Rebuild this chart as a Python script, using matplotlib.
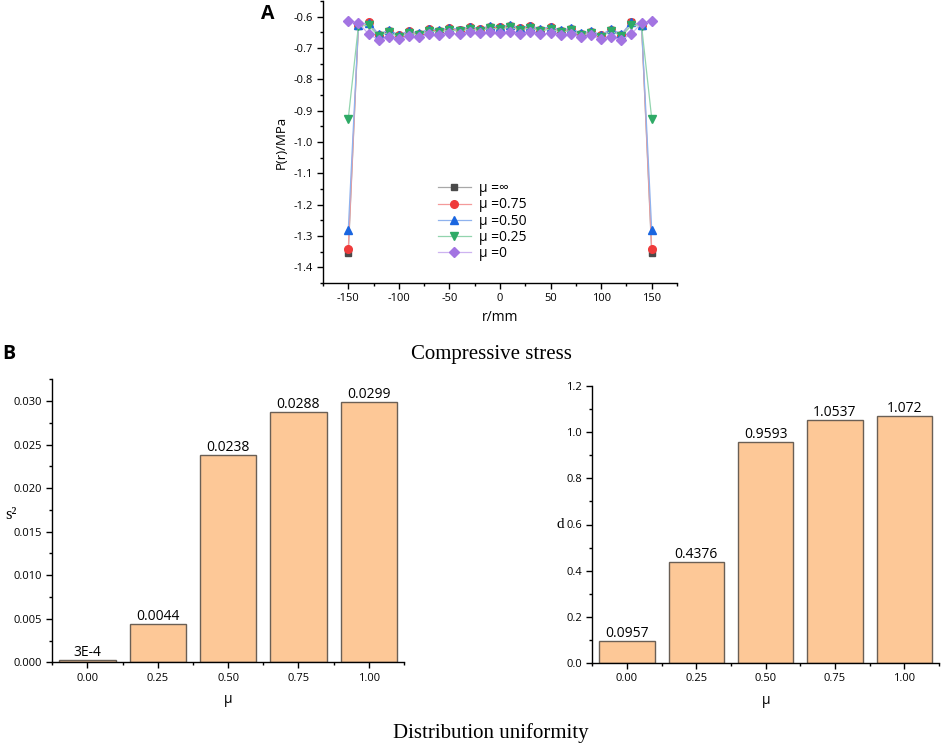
import matplotlib
matplotlib.use("Agg")
import matplotlib.pyplot as plt
from matplotlib.ticker import MultipleLocator

plt.rcParams['font.family'] = ['Open Sans', 'DejaVu Sans']

# ---- Panel A data ----
r_mm = [-150, -140, -130, -120, -110, -100, -90, -80, -70, -60, -50, -40, -30, -20, -10,
        0, 10, 20, 30, 40, 50, 60, 70, 80, 90, 100, 110, 120, 130, 140, 150]
p_inf = [-1.355, -0.629, -0.619, -0.659, -0.646, -0.661, -0.648, -0.656, -0.641, -0.646,
         -0.638, -0.644, -0.635, -0.641, -0.633, -0.635, -0.630, -0.638, -0.632, -0.642,
         -0.635, -0.646, -0.640, -0.656, -0.649, -0.661, -0.642, -0.659, -0.618, -0.629, -1.355]
p_075 = [-1.342, -0.628, -0.617, -0.658, -0.645, -0.660, -0.647, -0.655, -0.640, -0.645,
         -0.637, -0.643, -0.634, -0.640, -0.632, -0.634, -0.629, -0.637, -0.631, -0.641,
         -0.634, -0.645, -0.639, -0.655, -0.648, -0.660, -0.641, -0.658, -0.616, -0.628, -1.342]
p_050 = [-1.280, -0.627, -0.619, -0.656, -0.643, -0.658, -0.645, -0.653, -0.638, -0.643,
         -0.635, -0.641, -0.632, -0.638, -0.630, -0.632, -0.627, -0.635, -0.629, -0.639,
         -0.632, -0.643, -0.637, -0.653, -0.646, -0.658, -0.639, -0.656, -0.618, -0.627, -1.280]
p_025 = [-0.925, -0.630, -0.628, -0.662, -0.650, -0.664, -0.652, -0.659, -0.645, -0.650,
         -0.642, -0.647, -0.639, -0.645, -0.637, -0.639, -0.634, -0.642, -0.636, -0.646,
         -0.639, -0.650, -0.644, -0.659, -0.652, -0.664, -0.646, -0.662, -0.628, -0.630, -0.925]
p_0 = [-0.613, -0.620, -0.655, -0.674, -0.664, -0.671, -0.661, -0.664, -0.655, -0.657,
       -0.652, -0.655, -0.650, -0.652, -0.650, -0.652, -0.648, -0.655, -0.650, -0.655,
       -0.652, -0.657, -0.655, -0.666, -0.660, -0.671, -0.664, -0.674, -0.655, -0.620, -0.613]

series_labels = ['μ =∞', 'μ =0.75', 'μ =0.50', 'μ =0.25', 'μ =0']

# ---- Panel B data ----
mu = [0.00, 0.25, 0.50, 0.75, 1.00]
mu_ticklabels = ['0.00', '0.25', '0.50', '0.75', '1.00']
s2 = [0.0003, 0.0044, 0.0238, 0.0288, 0.0299]
s2_labels = ['3E-4', '0.0044', '0.0238', '0.0288', '0.0299']
d_vals = [0.0957, 0.4376, 0.9593, 1.0537, 1.072]
d_labels = ['0.0957', '0.4376', '0.9593', '1.0537', '1.072']

W, H = 941, 745
fig = plt.figure(figsize=(W / 100, H / 100), dpi=100)

def ax_rect(l, t, r, b):
    return [l / W, 1 - b / H, (r - l) / W, (b - t) / H]

TICK_FS = 8
def style_ax(ax):
    for s in ('top', 'right'):
        ax.spines[s].set_visible(False)
    for s in ('left', 'bottom'):
        ax.spines[s].set_linewidth(1.0)
    ax.tick_params(which='major', direction='out', length=4, width=1, labelsize=TICK_FS)
    ax.tick_params(which='minor', direction='out', length=2.5, width=1)

# ---- Panel A ----
axA = fig.add_axes(ax_rect(323, 1, 677, 283))
styles = [
    (p_inf, 's', '#4a4a4a', '#a8a8a8', 5),
    (p_075, 'o', '#ef3b3b', '#f49a9a', 5.5),
    (p_050, '^', '#1a66e0', '#8fb2ee', 5.5),
    (p_025, 'v', '#2eaa66', '#92d4ae', 5.5),
    (p_0, 'D', '#a374e2', '#cdb3f0', 5.2),
]
for (vals, mk, mc, lc, ms), lab in zip(styles, series_labels):
    axA.plot(r_mm, vals, color=lc, lw=0.9, marker=mk, ms=ms, mfc=mc, mec=mc, label=lab)
axA.set_xlim(-175, 175)
axA.set_ylim(-1.45, -0.55)
axA.xaxis.set_minor_locator(MultipleLocator(25))
axA.yaxis.set_minor_locator(MultipleLocator(0.05))
axA.set_yticks([-1.4, -1.3, -1.2, -1.1, -1.0, -0.9, -0.8, -0.7, -0.6])
axA.set_yticklabels(['-1.4', '-1.3', '-1.2', '-1.1', '-1.0', '-0.9', '-0.8', '-0.7', '-0.6'])
axA.set_xticks([-150, -100, -50, 0, 50, 100, 150])
axA.set_xticklabels(['-150', '-100', '-50', '0', '50', '100', '150'])
style_ax(axA)
axA.set_xlabel('r/mm', fontsize=10, labelpad=4)
axA.set_ylabel('P(r)/MPa', fontsize=9.5, labelpad=4)
leg = axA.legend(loc='upper left', bbox_to_anchor=(0.30, 0.39), frameon=False,
                 fontsize=10, handlelength=2.4, labelspacing=0.08, handletextpad=0.55,
                 borderpad=0.1)
fig.text(268 / W, 1 - 14 / H, 'A', fontsize=14, fontweight='bold', ha='center', va='center')

# ---- Panel B ----
fig.text(9 / W, 1 - 354 / H, 'B', fontsize=14, fontweight='bold', ha='center', va='center')
fig.text(491 / W, 1 - 355 / H, 'Compressive stress', family='Liberation Serif',
         fontsize=15, ha='center', va='center')
fig.text(491 / W, 1 - 733 / H, 'Distribution uniformity', family='Liberation Serif',
         fontsize=15, ha='center', va='center')

BAR_FC = '#fdc897'
BAR_EC = '#6a5f55'

axL = fig.add_axes(ax_rect(52.3, 379.3, 404, 662.3))
bL = axL.bar(mu, s2, width=0.2, color=BAR_FC, edgecolor=BAR_EC, linewidth=1)
axL.bar_label(bL, labels=s2_labels, padding=0, fontsize=10)
axL.set_xlim(-0.125, 1.125)
axL.set_ylim(0, 0.0325)
axL.set_xticks(mu)
axL.set_xticklabels(mu_ticklabels)
axL.xaxis.set_minor_locator(MultipleLocator(0.25, offset=0.125))
axL.set_yticks([0.0, 0.005, 0.01, 0.015, 0.02, 0.025, 0.03])
axL.set_yticklabels(['0.000', '0.005', '0.010', '0.015', '0.020', '0.025', '0.030'])
axL.yaxis.set_minor_locator(MultipleLocator(0.0025))
style_ax(axL)
axL.set_xlabel('μ', fontsize=10, labelpad=6)
fig.text(11 / W, 1 - 515 / H, 's²', family='Liberation Serif', fontsize=12,
         ha='center', va='center')

axR = fig.add_axes(ax_rect(592.3, 386, 939, 663))
bR = axR.bar(mu, d_vals, width=0.2, color=BAR_FC, edgecolor=BAR_EC, linewidth=1)
axR.bar_label(bR, labels=d_labels, padding=0, fontsize=10)
axR.set_xlim(-0.125, 1.125)
axR.set_ylim(0, 1.2)
axR.set_xticks(mu)
axR.set_xticklabels(mu_ticklabels)
axR.xaxis.set_minor_locator(MultipleLocator(0.25, offset=0.125))
axR.set_yticks([0.0, 0.2, 0.4, 0.6, 0.8, 1.0, 1.2])
axR.set_yticklabels(['0.0', '0.2', '0.4', '0.6', '0.8', '1.0', '1.2'])
axR.yaxis.set_minor_locator(MultipleLocator(0.1))
style_ax(axR)
axR.set_xlabel('μ', fontsize=10, labelpad=6)
fig.text(560 / W, 1 - 524 / H, 'd', family='Liberation Serif', fontsize=11,
         ha='center', va='center')

fig.savefig('out.png', dpi=100)
